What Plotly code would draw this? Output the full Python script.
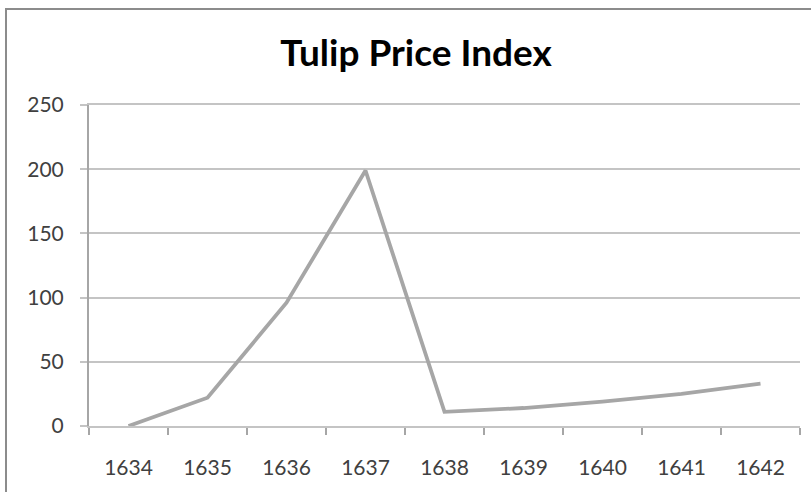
import plotly.graph_objects as go

# Tulip price index by year
years = ["1634", "1635", "1636", "1637", "1638", "1639", "1640", "1641", "1642"]
index_values = [0, 22, 96, 199, 11, 14, 19, 25, 33]
y_ticks = [0, 50, 100, 150, 200, 250]

W, H = 811, 492
L, R, T, B = 89, 11, 105, 66
pw, ph = W - L - R, H - T - B

def px_x(x):
    return (x - L) / pw

def px_y(y):
    return (H - B - y) / ph

GRID = "#c4c4c4"
AXIS = "#a6a6a6"

fig = go.Figure()
fig.add_trace(go.Scatter(
    x=years, y=index_values, mode="lines",
    line=dict(color="#a6a6a6", width=3.8),
    hoverinfo="x+y", showlegend=False,
))

fig.update_layout(
    width=W, height=H,
    margin=dict(l=L, r=R, t=T, b=B),
    paper_bgcolor="white", plot_bgcolor="white",
    font=dict(family="Lato, Open Sans, sans-serif", color="#404040", size=21),
    title=dict(
        text="<b>Tulip Price Index</b>",
        x=px_x(416), xref="paper", xanchor="center",
        y=1 - 53 / H, yref="container", yanchor="middle",
        font=dict(family="Lato, sans-serif", size=37, color="black"),
    ),
    xaxis=dict(
        type="category", range=[-0.5, 8.5],
        showgrid=False, zeroline=False,
        showline=True, mirror=True, linecolor=GRID, linewidth=2,
        ticks="outside", tickson="boundaries", ticklen=7,
        tickcolor=AXIS, tickwidth=2,
        ticklabelstandoff=22,
        tickfont=dict(size=21, color="#404040"),
    ),
    yaxis=dict(
        range=[0, 250], tickvals=y_ticks,
        showgrid=True, gridcolor=GRID, gridwidth=2,
        showline=True, linecolor=AXIS, linewidth=2,
        zeroline=False,
        ticks="outside", ticklen=7, tickcolor=GRID, tickwidth=2,
        ticklabelstandoff=12,
        tickfont=dict(size=21, color="#404040"),
    ),
    shapes=[dict(
        type="rect", xref="paper", yref="paper",
        x0=px_x(6), x1=px_x(830), y0=px_y(520), y1=px_y(9),
        line=dict(color="#8c8c8c", width=2), fillcolor="rgba(0,0,0,0)",
        layer="below",
    )],
)

fig.write_html("out.html")
